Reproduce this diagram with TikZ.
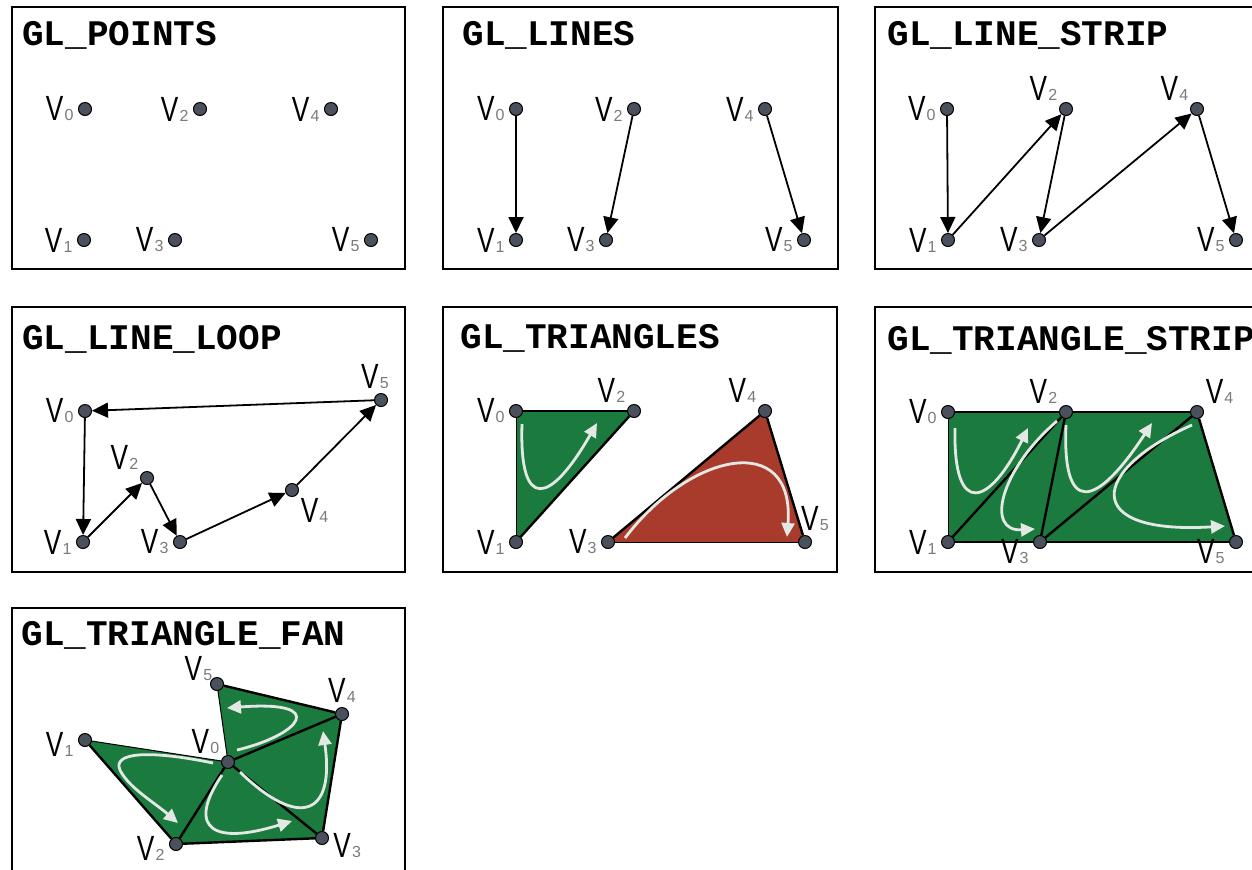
\documentclass[tikz,border=0pt]{standalone}
\usepackage{fontspec}
\usepackage{xcolor}
\usepackage{tikz}
\usetikzlibrary{arrows.meta,positioning}
\newfontfamily\titlefont{Liberation Mono}
\newfontfamily\vfont[FakeStretch=0.75]{Liberation Sans}
\newfontfamily\subfont{Liberation Sans}
\definecolor{trigreen}{HTML}{1B7A3E}
\definecolor{trired}{HTML}{A93B2C}
\definecolor{dotgray}{HTML}{4A505C}
\definecolor{subgray}{HTML}{7A7A7A}
\definecolor{flowwhite}{HTML}{E4E8E4}
\newcommand{\vlab}[1]{V\kern0.6pt{\subfont\fontsize{8}{8}\selectfont\color{subgray}#1}}
\pgfdeclarelayer{under}
\pgfsetlayers{under,main}

\begin{document}
\begin{tikzpicture}[x=0.5pt,y=-0.5pt,
  vdot/.style={circle,draw=black,line width=0.5pt,fill=dotgray,minimum size=6.5pt,inner sep=0pt},
  every label/.style={font=\vfont\fontsize{17.5}{18}\selectfont,inner sep=1pt},
  label distance=1pt,
  panel/.style={draw=black,line width=1.2pt},
  title/.style={font=\titlefont\bfseries\fontsize{18}{18}\selectfont,anchor=base west,inner sep=0pt},
  walk/.style={line width=0.9pt,-{Triangle[length=8pt,width=7.5pt]}},
  rim/.style={line width=1.2pt},
  thinrim/.style={line width=0.5pt},
  flow/.style={draw=flowwhite,line width=1.4pt,-{Triangle[length=7pt,width=6.5pt]}}]
  \useasboundingbox (0,0) rectangle (1252,869);

  % panel frames and titles
  \draw[panel] (12,7) rectangle (405,269);
  \draw[panel] (443,7) rectangle (838,269);
  \draw[panel] (875,7) rectangle (1275,269);
  \draw[panel] (12,307) rectangle (405,572);
  \draw[panel] (443,307) rectangle (837,572);
  \draw[panel] (875,307) rectangle (1275,572);
  \draw[panel] (12,608) rectangle (405,880);
  \node[title] (ttl-pt) at (22,45) {GL\_POINTS};
  \node[title] (ttl-ln) at (462,45) {GL\_LINES};
  \node[title] (ttl-ls) at (887,45) {GL\_LINE\_STRIP};
  \node[title] (ttl-ll) at (22,349) {GL\_LINE\_LOOP};
  \node[title] (ttl-tr) at (460,348) {GL\_TRIANGLES};
  \node[title] (ttl-ts) at (887,350) {GL\_TRIANGLE\_STRIP};
  \node[title] (ttl-tf) at (21,645) {GL\_TRIANGLE\_FAN};

  % points
  \foreach \i/\x/\y in {0/85/109,1/84/240,2/200/109,3/175/240,4/331/109,5/371/240}
    \node[vdot,label={left:\vlab{\i}}] (pt\i) at (\x,\y) {};

  % lines
  \node[vdot,label={left:\vlab{0}}] (ln0) at (516,109) {};
  \node[vdot,label={left:\vlab{1}}] (ln1) at (516,240) {};
  \node[vdot,label={left:\vlab{2}}] (ln2) at (634,109) {};
  \node[vdot,label={left:\vlab{3}}] (ln3) at (606,240) {};
  \node[vdot,label={left:\vlab{4}}] (ln4) at (765,109) {};
  \node[vdot,label={left:\vlab{5}}] (ln5) at (804,240) {};
  \draw[walk] (ln0) -- (ln1);
  \draw[walk] (ln2) -- (ln3);
  \draw[walk] (ln4) -- (ln5);

  % line strip
  \node[vdot,label={left:\vlab{0}}] (ls0) at (947,109) {};
  \node[vdot,label={left:\vlab{1}}] (ls1) at (948,240) {};
  \node[vdot,label={above left:\vlab{2}}] (ls2) at (1066,109) {};
  \node[vdot,label={left:\vlab{3}}] (ls3) at (1039,240) {};
  \node[vdot,label={above left:\vlab{4}}] (ls4) at (1197,109) {};
  \node[vdot,label={left:\vlab{5}}] (ls5) at (1236,240) {};
  \foreach \a/\b in {0/1,1/2,2/3,3/4,4/5}
    \draw[walk] (ls\a) -- (ls\b);

  % line loop
  \node[vdot,label={left:\vlab{0}}] (ll0) at (85,411) {};
  \node[vdot,label={left:\vlab{1}}] (ll1) at (83,542) {};
  \node[vdot,label={above left:\vlab{2}}] (ll2) at (147,478) {};
  \node[vdot,label={left:\vlab{3}}] (ll3) at (180,542) {};
  \node[vdot,label={below right:\vlab{4}}] (ll4) at (292,490) {};
  \node[vdot,label={[xshift=-3pt]above:\vlab{5}}] (ll5) at (381,400) {};
  \foreach \a/\b in {0/1,1/2,2/3,3/4,4/5,5/0}
    \draw[walk] (ll\a) -- (ll\b);

  % triangles
  \node[vdot,label={left:\vlab{0}}] (tr0) at (516,411) {};
  \node[vdot,label={left:\vlab{1}}] (tr1) at (516,542) {};
  \node[vdot,label={above left:\vlab{2}}] (tr2) at (634,411) {};
  \node[vdot,label={left:\vlab{3}}] (tr3) at (608,542) {};
  \node[vdot,label={above left:\vlab{4}}] (tr4) at (765,411) {};
  \node[vdot,label={[xshift=5pt]above:\vlab{5}}] (tr5) at (805,542) {};
  \begin{pgfonlayer}{under}
    \fill[trigreen] (tr0.center) -- (tr1.center) -- (tr2.center) -- cycle;
    \fill[trired] (tr3.center) -- (tr4.center) -- (tr5.center) -- cycle;
    \draw[thinrim] (tr0) -- (tr1);
    \draw[rim] (tr1) -- (tr2);
    \draw[rim] (tr2) -- (tr0);
    \draw[rim] (tr3) -- (tr4);
    \draw[rim] (tr4) -- (tr5);
    \draw[thinrim] (tr5) -- (tr3);
    \draw[flow] (522,424) .. controls (519,512) and (550,505) .. (597,423);
    \draw[flow] (625,538) .. controls (690,452) and (795,430) .. (787,537);
  \end{pgfonlayer}

  % triangle strip
  \node[vdot,label={left:\vlab{0}}] (ts0) at (948,412) {};
  \node[vdot,label={left:\vlab{1}}] (ts1) at (948,542) {};
  \node[vdot,label={above left:\vlab{2}}] (ts2) at (1066,412) {};
  \node[vdot,label={[yshift=-5pt]left:\vlab{3}}] (ts3) at (1040,542) {};
  \node[vdot,label={above right:\vlab{4}}] (ts4) at (1197,412) {};
  \node[vdot,label={[yshift=-5pt]left:\vlab{5}}] (ts5) at (1236,542) {};
  \begin{pgfonlayer}{under}
    \fill[trigreen] (ts0.center) -- (ts2.center) -- (ts4.center) -- (ts5.center)
      -- (ts3.center) -- (ts1.center) -- cycle;
    \draw[thinrim] (ts0) -- (ts1);
    \foreach \a/\b in {0/2,2/4,4/5,5/3,3/1,1/2,2/3,3/4}
      \draw[rim] (ts\a) -- (ts\b);
    \draw[flow] (955,428) .. controls (953,520) and (990,505) .. (1028,428);
    \draw[flow] (1057,421) .. controls (1000,470) and (985,532) .. (1035,529);
    \draw[flow] (1066,425) .. controls (1062,515) and (1095,510) .. (1152,423);
    \draw[flow] (1192,425) .. controls (1090,470) and (1080,535) .. (1225,526);
  \end{pgfonlayer}

  % triangle fan
  \node[vdot,label={above left:\vlab{0}}] (tf0) at (228,762) {};
  \node[vdot,label={[yshift=-2pt]left:\vlab{1}}] (tf1) at (85,740) {};
  \node[vdot,label={[yshift=-2pt]left:\vlab{2}}] (tf2) at (176,844) {};
  \node[vdot,label={[yshift=-4pt]right:\vlab{3}}] (tf3) at (322,838) {};
  \node[vdot,label={above:\vlab{4}}] (tf4) at (342,714) {};
  \node[vdot,label={[xshift=2pt,yshift=-2.5pt]above left:\vlab{5}}] (tf5) at (217,684) {};
  \begin{pgfonlayer}{under}
    \fill[trigreen] (tf1.center) -- (tf2.center) -- (tf3.center) -- (tf4.center)
      -- (tf5.center) -- (tf0.center) -- cycle;
    \draw[thinrim] (tf0) -- (tf1);
    \draw[thinrim] (tf0) -- (tf5);
    \foreach \a/\b in {1/2,2/3,3/4,4/5,0/2,0/3,0/4}
      \draw[rim] (tf\a) -- (tf\b);
    \draw[flow] (213,763) .. controls (150,750) and (112,752) .. (120,770)
      .. controls (128,787) and (155,803) .. (178,823);
    \draw[flow] (222,775) .. controls (185,830) and (215,845) .. (292,821);
    \draw[flow] (240,772) .. controls (300,830) and (335,815) .. (323,731);
    \draw[flow] (237,750) .. controls (300,735) and (330,700) .. (227,708);
  \end{pgfonlayer}
\end{tikzpicture}
\end{document}
